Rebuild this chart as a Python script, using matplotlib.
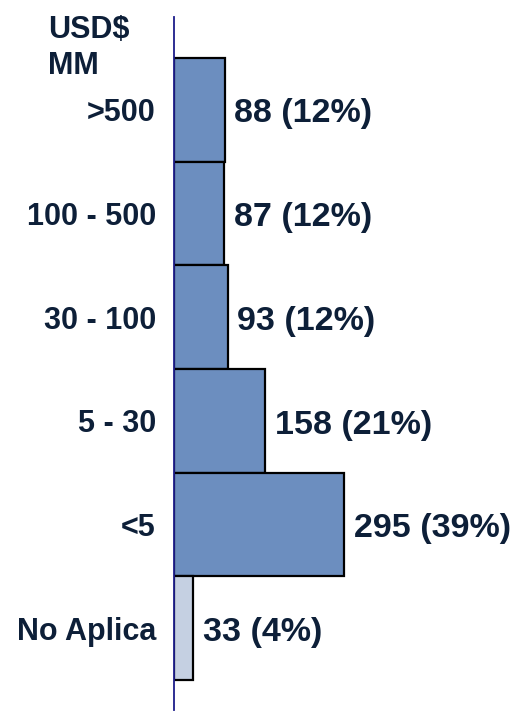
import matplotlib.pyplot as plt

# Companies by revenue bracket (USD$ MM)
categories = ['>500', '100 - 500', '30 - 100', '5 - 30', '<5', 'No Aplica']
counts = [88, 87, 93, 158, 295, 33]
shares = [12, 12, 12, 21, 39, 4]
barColors = ['#6c8ebf', '#6c8ebf', '#6c8ebf', '#6c8ebf', '#6c8ebf', '#c5d0e2']

textColor = '#0d1f38'
plt.rcParams['font.family'] = ['Liberation Sans', 'DejaVu Sans']

fig = plt.figure(figsize=(5.16, 7.18), dpi=100)
ax = fig.add_axes([174/516, 8/718, 342/516, 693/718])

y = list(range(len(categories)))
ax.barh(y, counts, height=1.0, color=barColors, edgecolor='black', linewidth=1.6, zorder=2)

for i in range(len(counts)):
    ax.annotate('%d (%d%%)' % (counts[i], shares[i]), xy=(counts[i], i), xytext=(7, -3),
                textcoords='offset points', ha='left', va='center',
                fontsize=24.5, fontweight='bold', color=textColor)

ax.set_xlim(0, 342/0.576)
ax.set_ylim(5.5 + 30/103.7, -0.5 - 41/103.7)

ax.set_yticks(y)
ax.set_yticklabels(categories, fontsize=22, fontweight='bold', color=textColor)
ax.tick_params(axis='y', length=0, pad=13)
for lbl in ax.get_yticklabels():
    lbl.set_y(lbl.get_position()[1])
ax.set_xticks([])

for s in ['top', 'right', 'bottom']:
    ax.spines[s].set_visible(False)
ax.spines['left'].set_color('#1c1c8a')
ax.spines['left'].set_linewidth(1.3)
ax.spines['left'].set_zorder(5)

fig.text(48/516, 1 - 48/718, 'USD$\nMM', ha='left', va='center', fontsize=22,
         fontweight='bold', color=textColor, linespacing=1.3)

fig.savefig('out.png', dpi=100)
